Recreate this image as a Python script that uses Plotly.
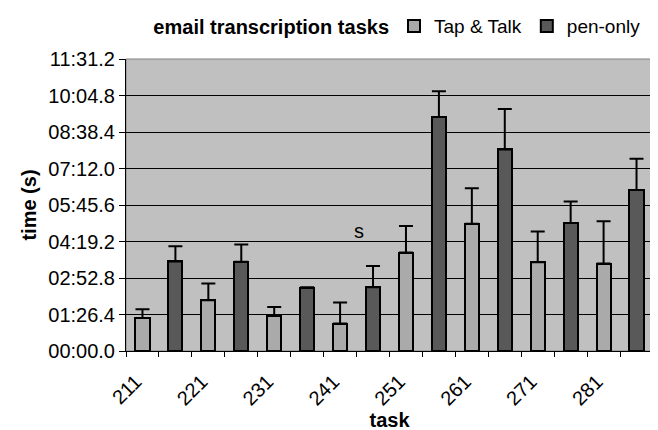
import plotly.graph_objects as go

# ---- data (seconds) ----
tasks = ["211", "221", "231", "241", "251", "261", "271", "281"]
tap_talk = [78, 120, 84, 65, 233, 301, 210, 207]
tap_talk_err = [21, 40, 20, 50, 63, 84, 73, 100]
pen_only = [212, 211, 149, 151, 554, 477, 303, 381]
pen_only_err = [36, 41, 2, 50, 61, 96, 51, 74]
y_ticks = [0, 86.4, 172.8, 259.2, 345.6, 432.0, 518.4, 604.8, 691.2]
y_tick_labels = ["00:00.0", "01:26.4", "02:52.8", "04:19.2", "05:45.6",
                 "07:12.0", "08:38.4", "10:04.8", "11:31.2"]

FONT = "Liberation Sans, Arial, sans-serif"
FS = 20

x_tap = [2 * i for i in range(len(tasks))]
x_pen = [2 * i + 1 for i in range(len(tasks))]

fig = go.Figure()
fig.add_trace(go.Bar(
    x=x_tap, y=tap_talk, name="Tap & Talk", width=0.43,
    marker=dict(color="#AAAAAA", line=dict(color="black", width=2)),
    error_y=dict(type="data", array=tap_talk_err, symmetric=False,
                 arrayminus=[0] * len(tasks), color="black", thickness=2, width=7),
))
fig.add_trace(go.Bar(
    x=x_pen, y=pen_only, name="pen-only", width=0.43,
    marker=dict(color="#595959", line=dict(color="black", width=2)),
    error_y=dict(type="data", array=pen_only_err, symmetric=False,
                 arrayminus=[0] * len(tasks), color="black", thickness=2, width=7),
))

fig.add_shape(type="rect", xref="paper", yref="paper", x0=0, x1=1, y0=0, y1=1,
              line=dict(color="#808080", width=1), layer="below")

fig.add_annotation(x=6.57, y=284, text="s", showarrow=False,
                   font=dict(family=FONT, size=FS, color="black"))

fig.update_layout(
    width=658, height=430,
    margin=dict(l=118, r=13, t=51, b=87, autoexpand=False),
    paper_bgcolor="white", plot_bgcolor="#C0C0C0",
    font=dict(family=FONT, size=FS, color="black"),
    title=dict(text="<b>email transcription tasks</b>", x=0.40, xanchor="center",
               xref="container", y=0.955, yref="container", yanchor="middle",
               font=dict(family=FONT, size=FS)),
    legend=dict(orientation="h", x=386 / 658, xanchor="left", xref="container",
                y=0.958, yanchor="middle", yref="container",
                font=dict(family=FONT, size=19), itemwidth=30,
                bgcolor="rgba(0,0,0,0)", traceorder="normal",
                tracegroupgap=0, itemclick=False),
    bargap=0, showlegend=True,
)
fig.update_xaxes(
    range=[-0.5, 15.5], tickmode="array", tickvals=[x - 0.2 for x in x_tap], ticktext=tasks,
    tickangle=-45, ticks="", showgrid=False, zeroline=False,
    showline=True, linecolor="black", linewidth=1,
    tickfont=dict(family=FONT, size=FS), ticklabelstandoff=10,
    minor=dict(tickmode="array", tickvals=[k - 0.5 for k in range(17)],
               ticks="outside", ticklen=5, tickcolor="black", tickwidth=1, showgrid=False),
    title=dict(text="<b>task</b>", font=dict(family=FONT, size=FS), standoff=1),
)
fig.update_yaxes(
    range=[0, 691.2], tickmode="array", tickvals=y_ticks, ticktext=y_tick_labels,
    ticks="outside", ticklen=6, tickcolor="black",
    showgrid=True, gridcolor="black", gridwidth=1, zeroline=False,
    showline=True, linecolor="black", linewidth=1,
    tickfont=dict(family=FONT, size=FS),
    title=dict(text="<b>time (s)</b>", font=dict(family=FONT, size=FS), standoff=6),
)

fig.write_html("out.html")
